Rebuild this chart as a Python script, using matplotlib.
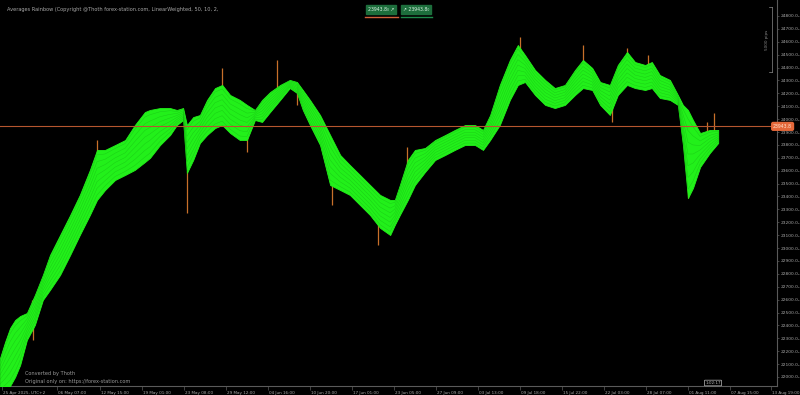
import numpy as np
import matplotlib
matplotlib.use("Agg")
import matplotlib.pyplot as plt
import matplotlib.transforms as mtrans

# ---------------- data (bar index, prices) ----------------
bars = [0, 12, 24, 36, 48, 64, 83, 102, 119, 143, 167, 190, 214, 231, 250, 274, 298, 321,
        345, 357, 381, 405, 421, 436, 445, 460, 476, 493, 512, 529, 548, 571, 588, 607,
        624, 643, 667, 690, 707, 721, 738, 762, 786, 810, 833, 857, 881, 905, 929, 940,
        952, 971, 988, 1012, 1036, 1060, 1083, 1107, 1131, 1150, 1167, 1190, 1214, 1233,
        1250, 1274, 1298, 1321, 1345, 1369, 1388, 1410, 1429, 1452, 1471, 1493, 1512,
        1536, 1552, 1571, 1595, 1614, 1626, 1638, 1650, 1667, 1690, 1710]
ribbon_top = [22147, 22271, 22380, 22442, 22473, 22496, 22636, 22791, 22946, 23101, 23256,
              23412, 23606, 23761, 23761, 23799, 23838, 23954, 24055, 24071, 24086, 24086,
              24071, 24086, 23954, 24016, 24032, 24149, 24241, 24265, 24187, 24149, 24110,
              24071, 24149, 24210, 24265, 24304, 24288, 24226, 24149, 24032, 23877, 23722,
              23644, 23567, 23489, 23412, 23373, 23373, 23489, 23683, 23761, 23776, 23838,
              23877, 23916, 23954, 23954, 23916, 24032, 24265, 24459, 24575, 24497, 24381,
              24304, 24241, 24265, 24381, 24459, 24397, 24288, 24265, 24420, 24521, 24443,
              24420, 24443, 24342, 24304, 24187, 24110, 24071, 23993, 23892, 23916, 23916]
ribbon_bot = [21884, 21899, 21930, 22000, 22093, 22287, 22403, 22597, 22675, 22791, 22946,
              23101, 23256, 23373, 23450, 23528, 23567, 23606, 23667, 23699, 23799, 23877,
              23954, 23993, 23582, 23683, 23815, 23877, 23931, 23954, 23892, 23838, 23838,
              23993, 23978, 24055, 24149, 24241, 24203, 24071, 23954, 23799, 23489, 23450,
              23412, 23334, 23256, 23156, 23101, 23179, 23256, 23373, 23489, 23590, 23683,
              23722, 23761, 23799, 23799, 23761, 23838, 23954, 24149, 24265, 24288, 24187,
              24110, 24086, 24110, 24187, 24241, 24226, 24110, 24032, 24187, 24265, 24241,
              24226, 24241, 24164, 24149, 24110, 23799, 23388, 23466, 23629, 23737, 23815]

wick_bar = [76, 79, 231, 445, 529, 588, 660, 707, 790, 900, 969, 1238, 1388, 1457, 1493,
            1543, 1638, 1683, 1700]
wick_lo = [22500, 22287, 23700, 23272, 24150, 23745, 24200, 24110, 23334, 23024, 23550,
           24450, 24350, 23978, 24400, 24350, 23388, 23850, 23850]
wick_hi = [22600, 22400, 23838, 23600, 24397, 23880, 24459, 24220, 23550, 23250, 23784,
           24637, 24575, 24100, 24552, 24497, 23500, 23978, 24048]

last_price = 23943.8
price_ticks = list(range(22000, 24801, 100))
time_ticks = [5, 136, 237, 337, 437, 537, 637, 737, 837, 937, 1037, 1137, 1237, 1337,
              1437, 1537, 1637, 1737, 1835]
time_labels = ["25 Apr 2025, UTC+2", "06 May 07:00", "12 May 15:00", "19 May 01:00",
               "23 May 08:00", "29 May 12:00", "04 Jun 16:00", "10 Jun 20:00",
               "17 Jun 01:00", "23 Jun 05:00", "27 Jun 09:00", "03 Jul 13:00",
               "09 Jul 18:00", "15 Jul 22:00", "22 Jul 03:00", "28 Jul 07:00",
               "01 Aug 11:00", "07 Aug 15:00", "13 Aug 19:00"]

# ---------------- figure ----------------
W, H = 800, 395
fig = plt.figure(figsize=(W / 100, H / 100), dpi=100, facecolor="black")
ax = fig.add_axes([0, (H - 386) / H, 777 / W, 386 / H], facecolor="black")
ax.set_xlim(0, 1850)
ax.set_ylim(21930, 24924)

b = np.array(bars, float)
top = np.array(ribbon_top, float)
bot = np.array(ribbon_bot, float)

ax.vlines(wick_bar, wick_lo, wick_hi, color="#c8702a", lw=0.9, zorder=2)
ax.fill_between(b, bot, top, color="#22f01a", lw=0.6, edgecolor="#22f01a", zorder=3)
for f in np.linspace(0.1, 0.9, 7):
    ax.plot(b, bot + f * (top - bot), color="#0f9a0f", lw=0.3, alpha=0.45, zorder=4)

ax.axhline(last_price, color="#b5562f", lw=0.8, zorder=5)

# axes styling
for s in ["top", "left"]:
    ax.spines[s].set_visible(False)
for s in ["right", "bottom"]:
    ax.spines[s].set_color("#5a5a5a")
    ax.spines[s].set_linewidth(0.8)
ax.yaxis.tick_right()
ax.set_yticks(price_ticks)
ax.set_yticklabels([f"{v}.0\u2080" for v in price_ticks])
ax.tick_params(axis="y", colors="#5a5a5a", labelcolor="#a8a8a8", labelsize=3.2,
               length=1.5, width=0.5, pad=0.8)
ax.set_xticks(time_ticks)
ax.set_xticklabels(time_labels)
ax.tick_params(axis="x", colors="#5a5a5a", labelcolor="#a8a8a8", labelsize=3.0,
               length=3, width=0.5, pad=0.3)
off = mtrans.ScaledTranslation(1.0 / 100, 0, fig.dpi_scale_trans)
for lab in ax.get_xticklabels():
    lab.set_horizontalalignment("left")
    lab.set_transform(lab.get_transform() + off)

# price tag
ax.text(0.995, last_price, "23943.8", transform=ax.get_yaxis_transform(), ha="left",
        va="center", fontsize=3.3, color="#ffe0cc", zorder=10,
        bbox=dict(boxstyle="round,pad=0.3", fc="#e4683a", ec="#e4683a"))

# header texts
fig.text(7 / W, 1 - 10 / H, "Averages Rainbow (Copyright @Thoth forex-station.com, LinearWeighted, 50, 10, 2,",
         color="#a8a8a8", fontsize=3.6, va="center", ha="left")
fig.text(381 / W, 1 - 9.5 / H, "23943.8\u2080 \u2197", color="#d8f0e0", fontsize=3.3,
         ha="center", va="center",
         bbox=dict(boxstyle="square,pad=0.4", fc="#1d6e3c", ec="#1d6e3c"))
fig.text(416 / W, 1 - 9.5 / H, "\u2197 23943.8\u2080", color="#d8f0e0", fontsize=3.3,
         ha="center", va="center",
         bbox=dict(boxstyle="square,pad=0.4", fc="#1d6e3c", ec="#1d6e3c"))
fig.add_artist(plt.Line2D([365 / W, 398 / W], [1 - 16.5 / H, 1 - 16.5 / H], color="#d0603a", lw=1.0))
fig.add_artist(plt.Line2D([401 / W, 432 / W], [1 - 16.5 / H, 1 - 16.5 / H], color="#1d8a4a", lw=1.0))

# pips ruler
fig.add_artist(plt.Line2D([772 / W, 772 / W], [1 - 7 / H, 1 - 72 / H], color="#8a8a8a", lw=0.5))
fig.add_artist(plt.Line2D([769 / W, 772 / W], [1 - 7 / H, 1 - 7 / H], color="#8a8a8a", lw=0.5))
fig.add_artist(plt.Line2D([769 / W, 772 / W], [1 - 72 / H, 1 - 72 / H], color="#8a8a8a", lw=0.5))
fig.text(767 / W, 1 - 40 / H, "5000 pips", rotation=90, color="#8a8a8a", fontsize=3.0,
         ha="center", va="center")

# footer texts
fig.text(25 / W, 1 - 374 / H, "Converted by Thoth", color="#9a9a9a", fontsize=3.6,
         ha="left", va="center")
fig.text(25 / W, 1 - 381 / H, "Original only on: https://forex-station.com", color="#9a9a9a",
         fontsize=3.6, ha="left", va="center")
fig.text(713 / W, 1 - 383 / H, "1:02:17", color="#bbbbbb", fontsize=3.0, ha="center",
         va="center", bbox=dict(boxstyle="round,pad=0.2", fc="black", ec="#bbbbbb", lw=0.5))

fig.savefig("out.png", dpi=100, facecolor="black")
